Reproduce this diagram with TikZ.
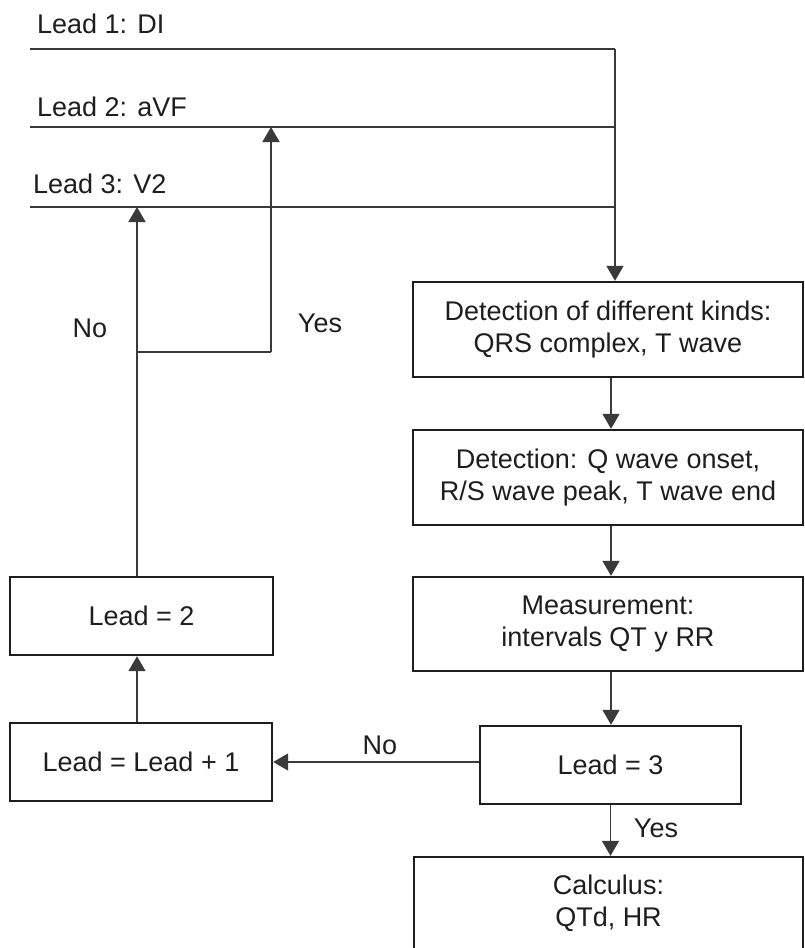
\documentclass[tikz,border=0pt]{standalone}
\usepackage{fontspec}
\setmainfont{Liberation Sans}
\usetikzlibrary{arrows.meta}
\definecolor{linec}{HTML}{3A3A3A}
\definecolor{boxc}{HTML}{1E1E1E}
\definecolor{txtc}{HTML}{1E1E1E}
\begin{document}
\begin{tikzpicture}[x=1pt,y=-1pt,
  every node/.style={text=txtc,font=\fontsize{27}{32}\selectfont},
  box/.style={draw=boxc,line width=2.4pt,inner sep=0pt,align=center},
  conn/.style={draw=linec,line width=1.6pt},
  arr/.style={conn,-{Triangle[width=17pt,length=15pt]}},
  lbl/.style={inner sep=0pt}]
\clip (0,0) rectangle (804,948);
\fill[white] (0,0) rectangle (804,948);

% lead labels
\node[lbl,anchor=base west] (lab1) at (37,33) {Lead 1: DI};
\node[lbl,anchor=base west] (lab2) at (37,116) {Lead 2: aVF};
\node[lbl,anchor=base west] (lab3) at (33,193) {Lead 3: V2};

% lead lines
\coordinate (l1a) at (30,49);  \coordinate (l1b) at (615,49);
\coordinate (l2a) at (30,127); \coordinate (l2b) at (615,127);
\coordinate (l3a) at (30,207); \coordinate (l3b) at (615,207);

% boxes
\node[box,minimum width=390pt,minimum height=95pt] (b1) at (608,329.5)
  {Detection of different kinds:\\QRS complex, T wave};
\node[box,minimum width=390pt,minimum height=95pt] (b2) at (608,477.5)
  {Detection: Q wave onset,\\R/S wave peak, T wave end};
\node[box,minimum width=390pt,minimum height=94pt] (b3) at (608,624)
  {Measurement:\\intervals QT y RR};
\node[box,minimum width=261pt,minimum height=78pt] (l3box) at (610.5,765) {Lead = 3};
\node[box,minimum width=389pt,minimum height=92pt] (calc) at (608.5,903)
  {Calculus:\\QTd, HR};
\node[box,minimum width=262pt,minimum height=78pt] (plus) at (141,762) {Lead = Lead + 1};
\node[box,minimum width=263pt,minimum height=78pt] (l2box) at (141.5,616) {Lead = 2};

% connectors: lead lines
\draw[conn] (l1a) -- (l1b);
\draw[conn] (l2a) -- (l2b);
\draw[conn] (l3a) -- (l3b);
\draw[arr] (l1b) -- (l1b |- b1.north);

% main flow
\draw[arr] ([xshift=3pt]b1.south) -- ([xshift=3pt]b2.north);
\draw[arr] ([xshift=3pt]b2.south) -- ([xshift=3pt]b3.north);
\draw[arr] ([xshift=3pt]b3.south) -- ([xshift=3pt]b3.south |- l3box.north);
\draw[arr] (l3box.south) -- (l3box.south |- calc.north);
\node[lbl] (yes2) at (656,828) {Yes};
\draw[arr] (plus.east -| l3box.west) -- (plus.east);
\node[lbl] (no2) at (380,745) {No};

% loop back
\coordinate (colx) at (137,0);
\coordinate (j1) at (137,352);
\coordinate (j2) at (271,352);
\draw[arr] (plus.north -| colx) -- (l2box.south -| colx);
\draw[arr] (l2box.north -| colx) -- (l3a -| colx);
\draw[conn] (j1) -- (j2);
\draw[arr] (j2) -- (l2a -| j2);
\node[lbl] (no1) at (90,328) {No};
\node[lbl] (yes1) at (320,323) {Yes};
\end{tikzpicture}
\end{document}
